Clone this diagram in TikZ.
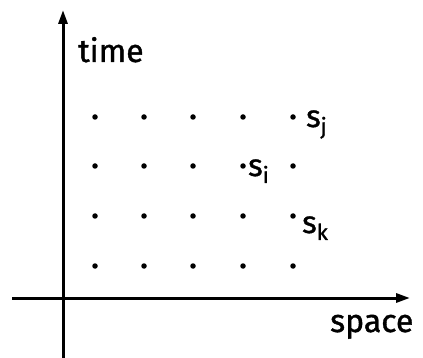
\documentclass[tikz,border=0pt]{standalone}
\usepackage{fontspec}
\setmainfont{Fira Sans}
\newfontfamily\hand{Fira Sans}[FakeBold=1.2]
\usetikzlibrary{arrows.meta}
\newcommand{\subl}[1]{\raisebox{-7pt}{\fontsize{22}{24}\selectfont #1}}
\begin{document}
\begin{tikzpicture}[x=1pt,y=-1pt,
  axis/.style={line width=3pt,-{Triangle[length=14pt,width=9pt]}},
  dotmark/.style={circle,fill=black,inner sep=0pt,minimum size=5.5pt},
  lbl/.style={font=\hand\fontsize{32}{34}\selectfont,inner sep=0pt},
  sublbl/.style={font=\hand\fontsize{31}{34}\selectfont,inner sep=0pt}]
\useasboundingbox (0,0) rectangle (423,358);
\coordinate (vb) at (63,358);
\coordinate (vt) at (63,10);
\coordinate (hl) at (12,298);
\coordinate (hr) at (410,298);
\draw[axis] (vb) -- (vt);
\draw[axis] (hl) -- (hr);
\foreach \c/\x in {1/95,2/144,3/193,4/243,5/293}{
  \foreach \r/\y in {1/117,2/166,3/216,4/266}{
    \node[dotmark] (d\c\r) at (\x,\y) {};
  }
}
\node[lbl,anchor=base west] (time) at (78,62) {time};
\node[lbl,anchor=base west] (space) at (330,332) {space};
\node[sublbl,anchor=base west] (sj) at (306,127) {s\subl{j}};
\node[sublbl,anchor=base west] (si) at (248,176) {s\subl{i}};
\node[sublbl,anchor=base west] (sk) at (302,233) {s\subl{k}};
\end{tikzpicture}
\end{document}
